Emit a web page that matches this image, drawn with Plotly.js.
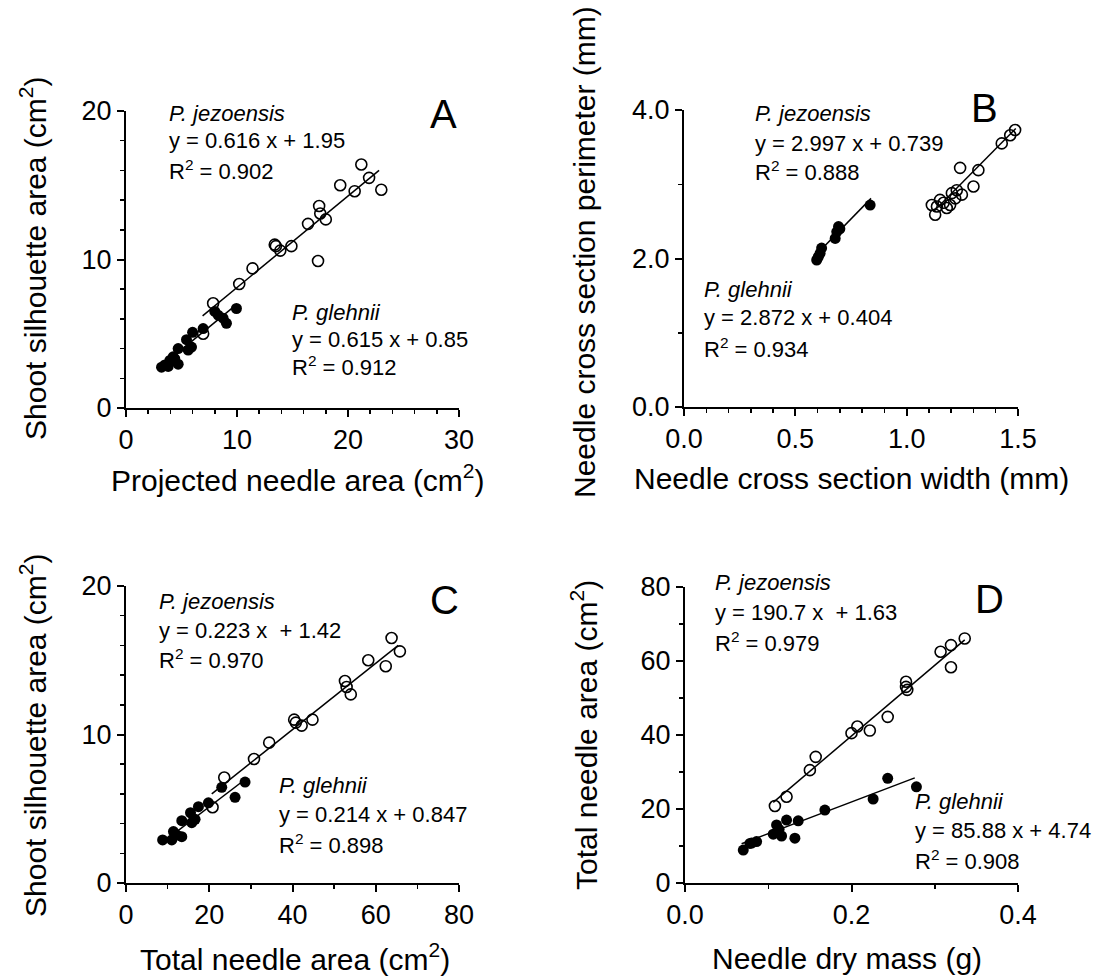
<!DOCTYPE html>
<html>
<head>
<meta charset="utf-8">
<script src="https://cdn.plot.ly/plotly-3.0.1.min.js"></script>
<style>html,body{margin:0;padding:0;background:#fff;}#chart{width:1095px;height:976px;}</style>
</head>
<body>
<div id="chart"></div>
<script>
// ---------- DATA ----------
// Panel A: projected needle area (x) vs shoot silhouette area (y)
const A_jezX = [21.2, 21.9, 23.0, 19.3, 20.6, 17.4, 17.5, 18.0, 16.4, 17.3, 13.4, 13.5, 13.9, 14.9, 11.4, 10.2, 7.85, 6.95];
const A_jezY = [16.4, 15.5, 14.7, 15.0, 14.6, 13.6, 13.1, 12.7, 12.4, 9.9, 11.0, 10.9, 10.6, 10.9, 9.4, 8.35, 7.05, 5.0];
const A_gleX = [9.95, 9.05, 8.3, 8.0, 8.75, 6.95, 6.0, 5.45, 5.9, 5.6, 4.7, 4.25, 3.95, 4.7, 3.8, 3.2, 3.5, 4.4];
const A_gleY = [6.7, 5.7, 6.25, 6.5, 6.05, 5.35, 5.1, 4.6, 4.1, 3.9, 4.0, 3.45, 3.2, 2.95, 2.8, 2.75, 2.9, 3.3];
const A_jezLineX = [6.9, 22.8], A_jezLineY = [6.2, 16.0];
const A_gleLineX = [3.2, 10.0], A_gleLineY = [2.82, 7.0];

// Panel B: needle cross section width (x) vs perimeter (y)
const B_jezX = [1.487, 1.427, 1.465, 1.322, 1.240, 1.300, 1.225, 1.203, 1.248, 1.166, 1.136, 1.128, 1.195, 1.180, 1.113, 1.150, 1.218];
const B_jezY = [3.73, 3.55, 3.66, 3.19, 3.22, 2.97, 2.92, 2.88, 2.86, 2.75, 2.70, 2.59, 2.72, 2.68, 2.72, 2.79, 2.81];
const B_gleX = [0.836, 0.694, 0.686, 0.679, 0.618, 0.611, 0.596, 0.603, 0.700];
const B_gleY = [2.72, 2.43, 2.36, 2.27, 2.14, 2.07, 1.98, 2.02, 2.40];
const B_jezLineX = [1.12, 1.49], B_jezLineY = [2.63, 3.75];
const B_gleLineX = [0.60, 0.84], B_gleLineY = [2.07, 2.81];

// Panel C: total needle area (x) vs shoot silhouette area (y)
const C_jezX = [63.8, 65.8, 58.2, 62.4, 52.6, 53.0, 54.0, 44.8, 40.4, 40.8, 42.2, 34.4, 30.75, 23.6, 20.8];
const C_jezY = [16.5, 15.6, 15.0, 14.6, 13.6, 13.2, 12.7, 11.0, 11.0, 10.8, 10.6, 9.45, 8.35, 7.1, 5.1];
const C_gleX = [28.6, 26.2, 23.0, 19.8, 17.4, 15.5, 16.6, 15.8, 13.4, 11.4, 13.4, 11.0, 8.8, 12.2];
const C_gleY = [6.8, 5.77, 6.44, 5.4, 5.14, 4.73, 4.29, 4.06, 4.2, 3.46, 3.12, 2.9, 2.9, 3.23];
const C_jezLineX = [20.6, 65.4], C_jezLineY = [6.0, 16.0];
const C_gleLineX = [8.8, 28.6], C_gleLineY = [2.73, 6.97];

// Panel D: needle dry mass (x) vs total needle area (y)
const D_jezX = [0.336, 0.3195, 0.307, 0.3195, 0.2655, 0.2655, 0.267, 0.2435, 0.222, 0.207, 0.200, 0.157, 0.150, 0.122, 0.108];
const D_jezY = [66.1, 64.3, 62.5, 58.3, 54.4, 53.0, 52.2, 44.9, 41.2, 42.3, 40.5, 34.1, 30.5, 23.3, 20.8];
const D_gleX = [0.278, 0.2435, 0.226, 0.168, 0.136, 0.122, 0.110, 0.106, 0.116, 0.132, 0.113, 0.080, 0.078, 0.070, 0.086];
const D_gleY = [26.0, 28.3, 22.7, 19.7, 16.8, 17.0, 15.7, 13.2, 12.7, 12.1, 14.5, 10.8, 10.7, 8.9, 11.2];
const D_jezLineX = [0.106, 0.336], D_jezLineY = [21.8, 65.7];
const D_gleLineX = [0.068, 0.276], D_gleLineY = [10.6, 28.4];

// Texts
const panelLetters = ['A', 'B', 'C', 'D'];
const speciesJ = 'P. jezoensis', speciesG = 'P. glehnii';
const eqA = ['y = 0.616 x + 1.95', 'R<sup>2</sup> = 0.902', 'y = 0.615 x + 0.85', 'R<sup>2</sup> = 0.912'];
const eqB = ['y = 2.997 x + 0.739', 'R<sup>2</sup> = 0.888', 'y = 2.872 x + 0.404', 'R<sup>2</sup> = 0.934'];
const eqC = ['y = 0.223 x  + 1.42', 'R<sup>2</sup> = 0.970', 'y = 0.214 x + 0.847', 'R<sup>2</sup> = 0.898'];
const eqD = ['y = 190.7 x  + 1.63', 'R<sup>2</sup> = 0.979', 'y = 85.88 x + 4.74', 'R<sup>2</sup> = 0.908'];
const xTitles = ['Projected needle area (cm<sup>2</sup>)', 'Needle cross section width (mm)', 'Total needle area (cm<sup>2</sup>)', 'Needle dry mass (g)'];
const yTitles = ['Shoot silhouette area (cm<sup>2</sup>)', 'Needle cross section perimeter (mm)', 'Shoot silhouette area (cm<sup>2</sup>)', 'Total needle area (cm<sup>2</sup>)'];

// ---------- LAYOUT HELPERS ----------
const W = 1095, H = 976;
const FONT = 'Arial, "Liberation Sans", Helvetica, sans-serif';
const px = v => v / W;
const py = v => 1 - v / H;

function openTrace(x, y, ax) {
  return {x, y, xaxis: 'x' + ax, yaxis: 'y' + ax, mode: 'markers', type: 'scatter', cliponaxis: false,
    marker: {symbol: 'circle-open', size: 11, color: 'black', line: {width: 1.6, color: 'black'}}};
}
function fillTrace(x, y, ax) {
  return {x, y, xaxis: 'x' + ax, yaxis: 'y' + ax, mode: 'markers', type: 'scatter', cliponaxis: false,
    marker: {symbol: 'circle', size: 11, color: 'black'}};
}
function lineTrace(x, y, ax) {
  return {x, y, xaxis: 'x' + ax, yaxis: 'y' + ax, mode: 'lines', type: 'scatter', cliponaxis: false,
    line: {color: 'black', width: 1.5}};
}

const data = [
  lineTrace(A_jezLineX, A_jezLineY, ''), lineTrace(A_gleLineX, A_gleLineY, ''),
  openTrace(A_jezX, A_jezY, ''), fillTrace(A_gleX, A_gleY, ''),
  lineTrace(B_jezLineX, B_jezLineY, '2'), lineTrace(B_gleLineX, B_gleLineY, '2'),
  openTrace(B_jezX, B_jezY, '2'), fillTrace(B_gleX, B_gleY, '2'),
  lineTrace(C_jezLineX, C_jezLineY, '3'), lineTrace(C_gleLineX, C_gleLineY, '3'),
  openTrace(C_jezX, C_jezY, '3'), fillTrace(C_gleX, C_gleY, '3'),
  lineTrace(D_jezLineX, D_jezLineY, '4'), lineTrace(D_gleLineX, D_gleLineY, '4'),
  openTrace(D_jezX, D_jezY, '4'), fillTrace(D_gleX, D_gleY, '4'),
];

function axis(dom, range, dtick, minorDtick, anchor, fmt) {
  return {
    domain: dom, range: range, dtick: dtick, tick0: 0, anchor: anchor,
    showline: true, linecolor: 'black', linewidth: 2, mirror: false,
    ticks: 'outside', ticklen: 7, tickwidth: 2, tickcolor: 'black',
    showgrid: false, zeroline: false, tickformat: fmt || '',
    tickfont: {family: FONT, size: 27, color: 'black'},
    minor: {ticks: 'outside', ticklen: 4, tickwidth: 1.5, tickcolor: 'black', dtick: minorDtick, tick0: 0, showgrid: false},
    fixedrange: true
  };
}
// pixel boxes: [left, right, top, bottom]
const boxA = [126, 459, 111, 408];
const boxB = [684, 1018, 110, 407];
const boxC = [126, 459, 586, 883];
const boxD = [685, 1018, 587, 883];
const xd = b => [px(b[0]), px(b[1])];
const yd = b => [py(b[3]), py(b[2])];

const annotations = [];
function txt(text, x, y, size, opts) {
  annotations.push(Object.assign({text, x: px(x), y: py(y), xref: 'paper', yref: 'paper', showarrow: false,
    xanchor: 'left', yanchor: 'middle', font: {family: FONT, size: size, color: 'black'}}, opts || {}));
}
const S = 22;
function block(eq, jx, jy, gx, gy) {
  txt('<i>' + speciesJ + '</i>', jx, jy[0], S);
  txt(eq[0], jx, jy[1], S);
  txt(eq[1], jx, jy[2], S);
  txt('<i>' + speciesG + '</i>', gx, gy[0], S);
  txt(eq[2], gx, gy[1], S);
  txt(eq[3], gx, gy[2], S);
}
block(eqA, 167, [113, 141, 170], 290, [312, 339, 366]);
block(eqB, 753, [114, 143, 171], 702, [289, 318, 348]);
block(eqC, 157, [601, 630, 659], 277, [785, 814, 844]);
block(eqD, 713, [582, 612, 642], 913, [801, 830, 860]);

// panel letters
const letterPos = [[443, 114], [984, 108], [444, 600], [989, 599]];
panelLetters.forEach((L, i) => txt(L, letterPos[i][0], letterPos[i][1], 40, {xanchor: 'center'}));

// axis titles
const xtPos = [[298, 478], [851, 478], [295, 957], [847, 958]];
xTitles.forEach((t, i) => txt(t, xtPos[i][0], xtPos[i][1], 30, {xanchor: 'center'}));
const ytPos = [[33, 258], [584, 252], [33, 735], [584, 735]];
yTitles.forEach((t, i) => txt(t, ytPos[i][0], ytPos[i][1], 30, {xanchor: 'center', textangle: -90}));

const layout = {
  width: W, height: H, margin: {l: 0, r: 0, t: 0, b: 0},
  paper_bgcolor: 'white', plot_bgcolor: 'white', showlegend: false,
  font: {family: FONT, color: 'black'},
  xaxis: axis(xd(boxA), [0, 30], 10, 2, 'y'),
  yaxis: axis(yd(boxA), [0, 20], 10, 2, 'x'),
  xaxis2: axis(xd(boxB), [0, 1.5], 0.5, 0.1, 'y2', '.1f'),
  yaxis2: axis(yd(boxB), [0, 4], 2, 1, 'x2', '.1f'),
  xaxis3: axis(xd(boxC), [0, 80], 20, 10, 'y3'),
  yaxis3: axis(yd(boxC), [0, 20], 10, 2, 'x3'),
  xaxis4: axis(xd(boxD), [0, 0.4], 0.2, 0.1, 'y4', '.1f'),
  yaxis4: axis(yd(boxD), [0, 80], 20, 10, 'x4'),
  annotations: annotations
};

Plotly.newPlot('chart', data, layout, {staticPlot: true, displayModeBar: false});
</script>
</body>
</html>
